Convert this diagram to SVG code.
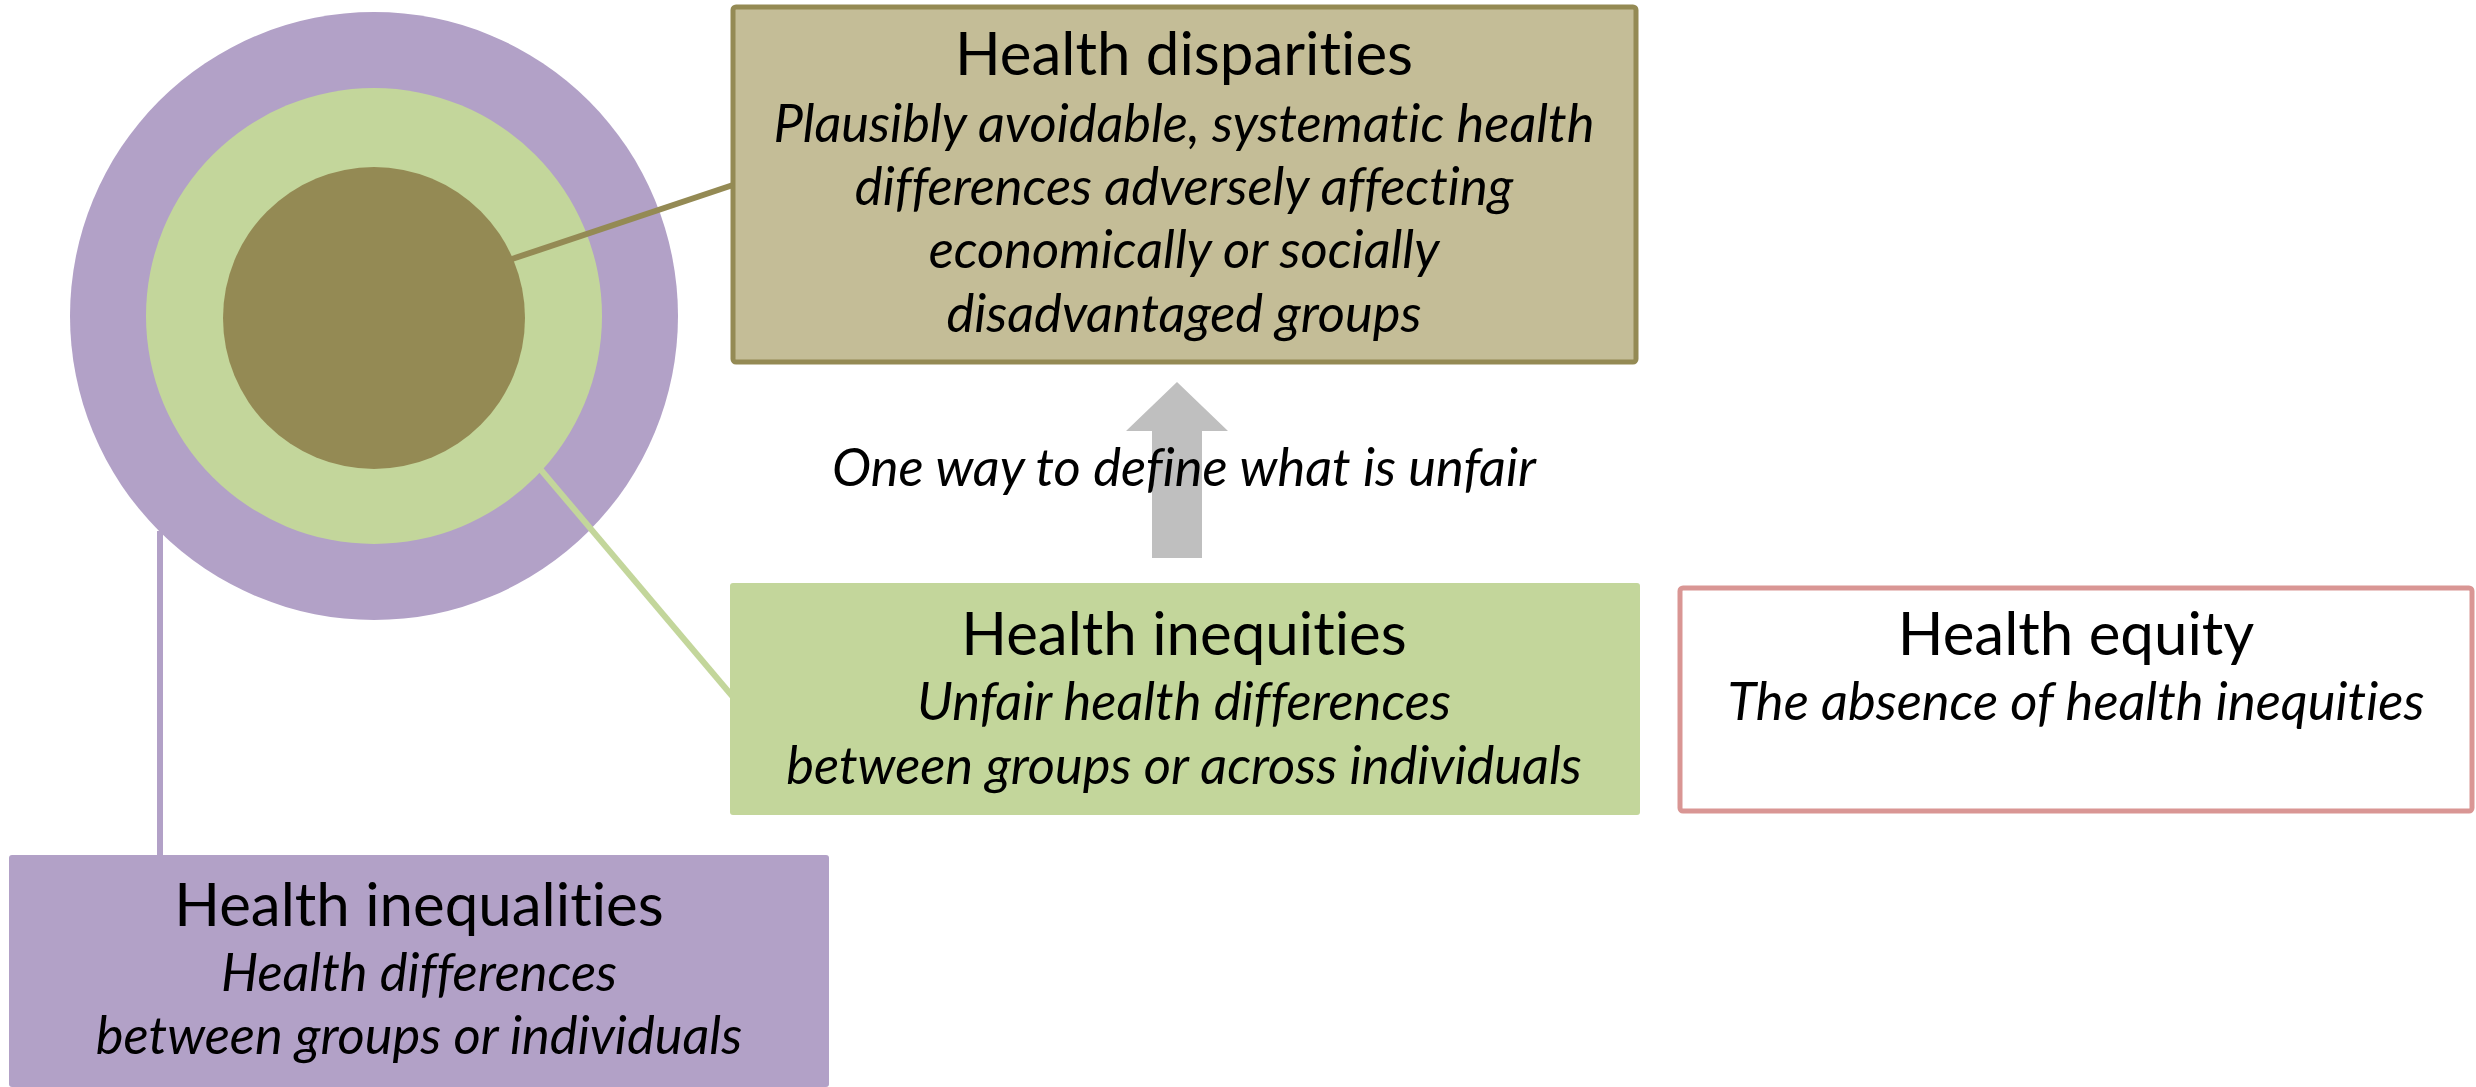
<svg xmlns="http://www.w3.org/2000/svg" width="2476" height="1087" viewBox="0 0 2476 1087">
<style>
text{font-family:Lato,"Open Sans","Liberation Sans",sans-serif;fill:#000;text-anchor:middle;font-variant-ligatures:none;font-feature-settings:"liga" 0}
.t{font-size:60px}
.d{font-size:52.5px;font-style:italic}
</style>
<rect width="2476" height="1087" fill="#fff"/>
<g id="circles">
<circle cx="374" cy="316" r="304" fill="#B2A1C7"/>
<circle cx="374" cy="316" r="228" fill="#C3D69B"/>
<circle cx="374" cy="318" r="151" fill="#948A54"/>
</g>
<g id="connectors">
<line x1="512" y1="259" x2="733" y2="185" stroke="#948A54" stroke-width="6"/>
<line x1="541" y1="470" x2="733" y2="697" stroke="#C3D69B" stroke-width="6"/>
<line x1="160" y1="531" x2="160" y2="857" stroke="#B2A1C7" stroke-width="6"/>
<path d="M1152,558 L1152,431 L1126,431 L1177,382 L1228,431 L1202,431 L1202,558 Z" fill="#BFBFBF"/>
</g>
<g id="disparities">
<rect x="733" y="7" width="903" height="355" rx="3" fill="#C4BD97" stroke="#948A54" stroke-width="5"/>
<text class="t" x="1184" y="75">Health disparities</text>
<text class="d" x="1184" y="142">Plausibly avoidable, systematic health</text>
<text class="d" x="1184" y="205">differences adversely affecting</text>
<text class="d" x="1184" y="268">economically or socially</text>
<text class="d" x="1184" y="332">disadvantaged groups</text>
</g>
<g id="arrow-label">
<text class="d" x="1184" y="486">One way to define what is unfair</text>
</g>
<g id="inequities">
<rect x="730" y="583" width="910" height="232" rx="3" fill="#C3D69B"/>
<text class="t" x="1184" y="655">Health inequities</text>
<text class="d" x="1184" y="720">Unfair health differences</text>
<text class="d" x="1184" y="784">between groups or across individuals</text>
</g>
<g id="equity">
<rect x="1680" y="588" width="792" height="223" rx="3" fill="#fff" stroke="#D99694" stroke-width="5"/>
<text class="t" x="2076" y="655">Health equity</text>
<text class="d" x="2076" y="720">The absence of health inequities</text>
</g>
<g id="inequalities">
<rect x="9" y="855" width="820" height="232" rx="3" fill="#B2A1C7"/>
<text class="t" x="419" y="926">Health inequalities</text>
<text class="d" x="419" y="991">Health differences</text>
<text class="d" x="419" y="1054">between groups or individuals</text>
</g>
</svg>
